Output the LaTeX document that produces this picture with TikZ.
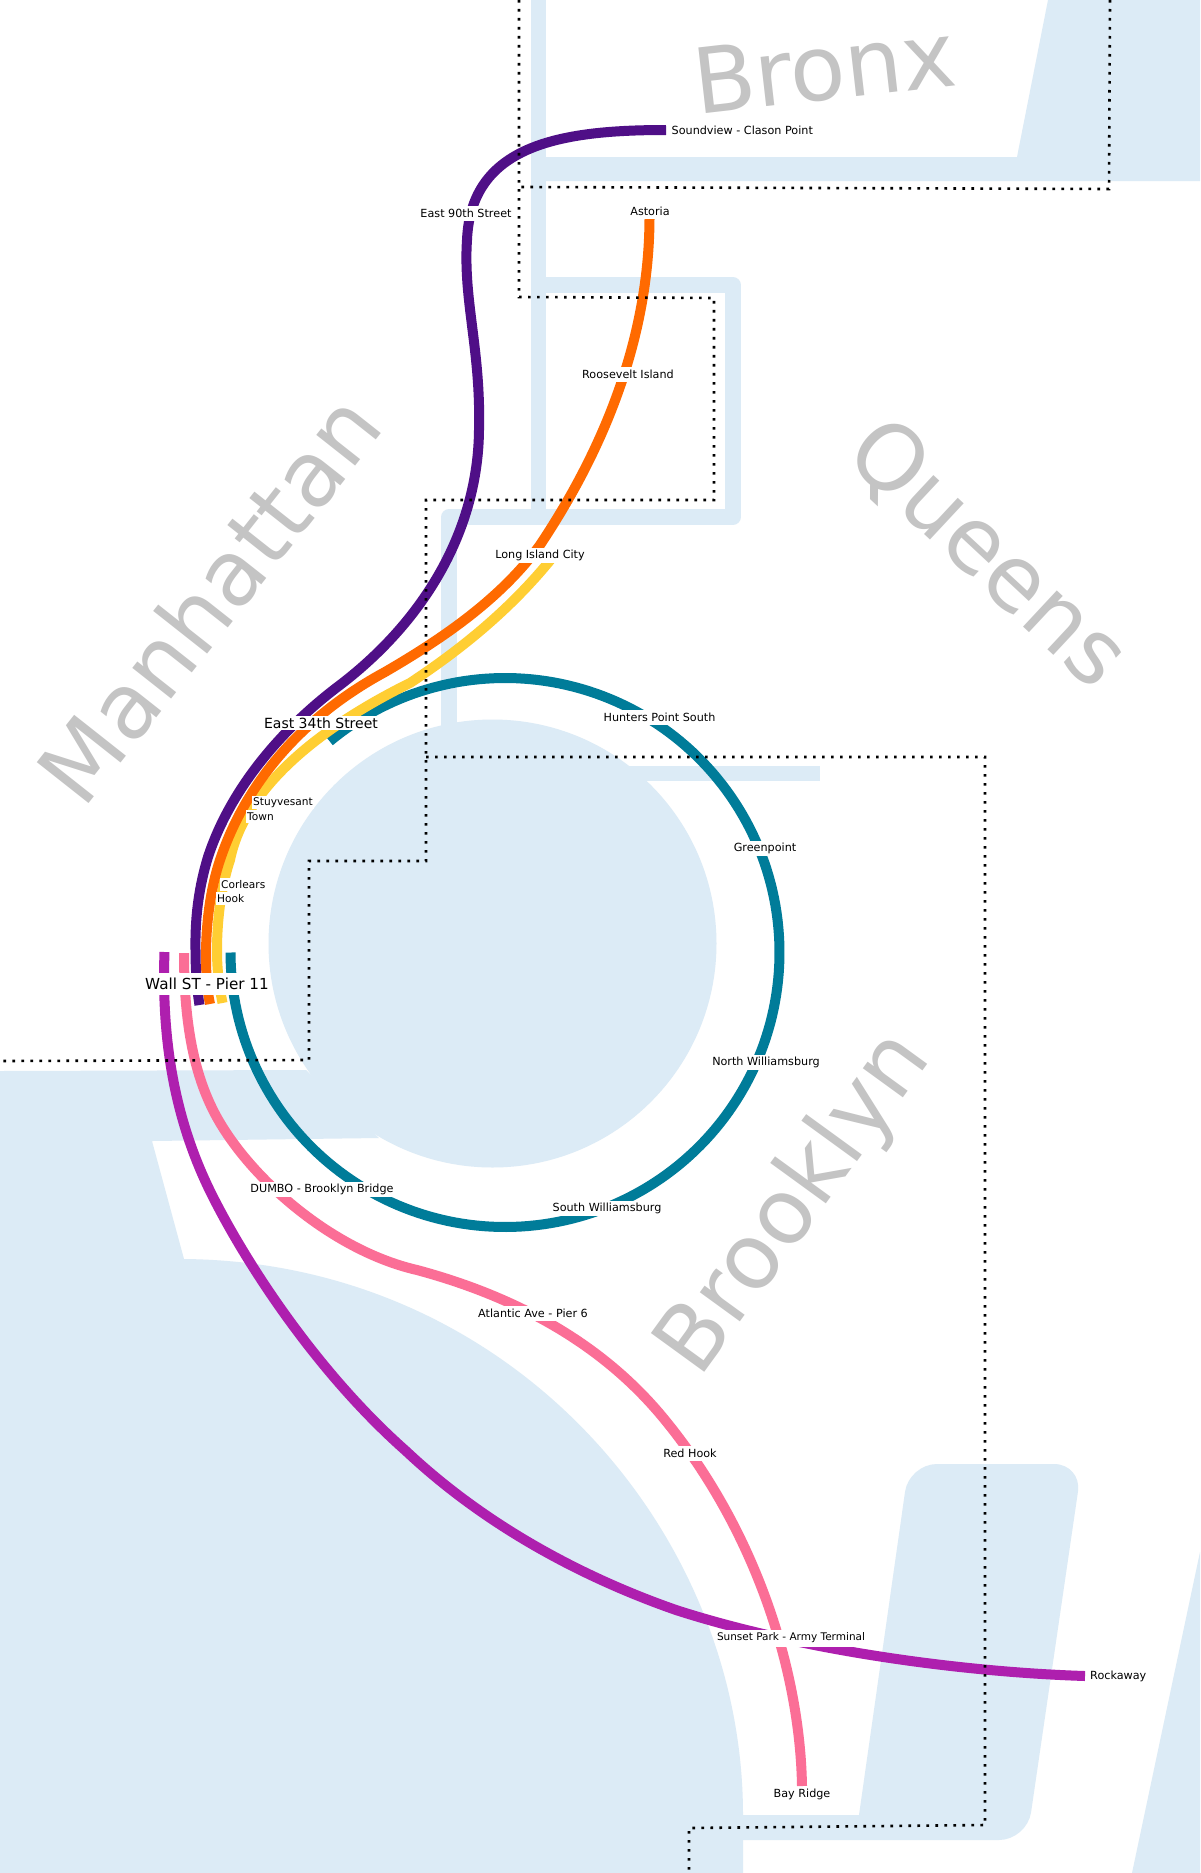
\documentclass[tikz,border=0pt]{standalone}
\usepackage{fontspec}
\setmainfont{DejaVu Sans}
\definecolor{water}{HTML}{DCEBF6}
\definecolor{lnpurple}{HTML}{4F0F87}
\definecolor{lnorange}{HTML}{FF6A00}
\definecolor{lnyellow}{HTML}{FFCE33}
\definecolor{lnteal}{HTML}{007C99}
\definecolor{lnpink}{HTML}{FB6E96}
\definecolor{lnmagenta}{HTML}{AE1FAE}
\definecolor{boro}{HTML}{C4C4C4}
\tikzset{
  ferry/.style={line width=10pt,line cap=butt,line join=round},
  channel/.style={draw=water,line width=15.5pt,line join=round},
  border/.style={draw=black,line width=2.6pt,dash pattern=on 2.6pt off 6.4pt},
  stop/.style={fill=white,text=black,inner xsep=1pt,inner ysep=0pt,minimum height=15pt,font=\fontsize{11.2}{13}\selectfont},
  stoptight/.style={stop,minimum height=13pt,font=\fontsize{10.6}{12}\selectfont},
  hub/.style={fill=white,text=black,inner xsep=1pt,inner ysep=0pt,font=\fontsize{15}{17}\selectfont},
  borough/.style={text=boro,anchor=base,font=\fontsize{90.5}{100}\selectfont}
}
\begin{document}
\begin{tikzpicture}[x=1pt,y=-1pt]
\useasboundingbox (0,0) rectangle (1200,1873);
\clip (0,0) rectangle (1200,1873);
\fill[white] (0,0) rectangle (1200,1873);
% water
\fill[water] (492.5,943.5) circle[radius=224pt];
\fill[water] (0,1071) -- (306,1070) -- (379,1138) -- (152,1141) -- (184,1259)
  .. controls (510,1262) and (743,1530) .. (743,1815) -- (743,1873) -- (0,1873) -- cycle;
\fill[water] (743,1815) -- (859,1815) [rounded corners=28pt] -- (909,1464) -- (1082,1464) -- (1027,1840) [sharp corners] -- (743,1840) -- cycle;
\fill[water] (1132,1873) -- (1200,1552) -- (1200,1873) -- cycle;
\fill[water] (1048,0) -- (1200,0) -- (1200,181) -- (531,181) -- (531,157) -- (1017,157) -- cycle;
\draw[channel] (538.5,0) -- (538.5,517);
\draw[channel] (538.5,285) -- (733,285) -- (733,517) -- (449,517) -- (449,760);
\fill[water] (600,766) rectangle (820,781);
% borough names
\node[borough,rotate=6.5] (bronx) at (828,100) {Bronx};
\node[borough,rotate=51.7] (manhattan) at (235,619) {Manhattan};
\node[borough,rotate=-43] (queens) at (968,575) {Queens};
\node[borough,rotate=54] (brooklyn) at (815.8,1218.7) {Brooklyn};
% line ends
\coordinate (soundview) at (666,130);
\coordinate (wallP) at (199.5,1005);
\coordinate (astoria) at (649.5,219);
\coordinate (wallO) at (210,1004);
\coordinate (lic) at (552,558);
\coordinate (wallY) at (222.5,1003);
\coordinate (rockaway) at (1085,1676);
\coordinate (wallM) at (164.5,952);
\coordinate (bayridge) at (802,1786);
\coordinate (wallK) at (184,953);
% ferry lines
\draw[ferry,lnteal] plot[domain=230.3:540,samples=200] ({505+274.5*cos(\x)},{952.5+274.5*sin(\x)});
\draw[ferry,lnmagenta] (rockaway) .. controls (960,1672) and (800,1650) .. (676,1610)
  .. controls (590,1580) and (490,1530) .. (406,1451)
  .. controls (320,1375) and (250,1270) .. (213,1197)
  .. controls (178,1128) and (161,1050) .. (wallM);
\draw[ferry,lnpink] (bayridge) .. controls (800,1670) and (755,1530) .. (665,1420)
  .. controls (600,1340) and (510,1295) .. (417,1270)
  .. controls (330,1250) and (245,1174) .. (213,1110)
  .. controls (193,1070) and (184,1020) .. (wallK);
\draw[ferry,lnyellow] (lic) .. controls (510,610) and (460,650) .. (410,683)
  .. controls (325,725) and (245,785) .. (230,860)
  .. controls (220,890) and (217,925) .. (217,950)
  .. controls (217,970) and (219,985) .. (wallY);
\draw[ferry,lnorange] (astoria) .. controls (649,330) and (610,440) .. (540,545)
  .. controls (500,600) and (440,640) .. (385,672)
  .. controls (300,718) and (245,785) .. (220,860)
  .. controls (210,890) and (206,925) .. (206,955)
  .. controls (206,975) and (207,990) .. (wallO);
\draw[ferry,lnpurple] (soundview) .. controls (560,130) and (471,145) .. (467,240)
  .. controls (463,300) and (481,350) .. (479,430)
  .. controls (478,530) and (425,620) .. (340,685)
  .. controls (280,730) and (230,790) .. (208,857)
  .. controls (198,890) and (195,920) .. (195.5,950)
  .. controls (195.5,970) and (197,990) .. (wallP);
% border
\draw[border] (1110,0) -- (1109,189) -- (519,187);
\draw[border] (519,0) -- (519,297) -- (714,298) -- (714,500) -- (426,500) -- (426,861) -- (309,861) -- (309,1060) -- (0,1061);
\draw[border] (426,757) -- (985,757) -- (985,1825) -- (689,1828) -- (689,1873);
% stops
\node[stop,anchor=west] (nSoundview) at (670.5,130) {Soundview - Clason Point};
\node[stop] (nEast90) at (466,213) {East 90th Street};
\node[stop] (nAstoria) at (650,211) {Astoria};
\node[stop] (nRoosevelt) at (628,374.5) {Roosevelt Island};
\node[stop] (nLIC) at (540,555) {Long Island City};
\node[stop] (nHunters) at (659.5,717) {Hunters Point South};
\node[stop] (nGreenpoint) at (765,848.5) {Greenpoint};
\node[stop] (nNorthW) at (766,1062.5) {North Williamsburg};
\node[stop] (nSouthW) at (607,1208) {South Williamsburg};
\node[stop] (nDumbo) at (322,1189.5) {DUMBO - Brooklyn Bridge};
\node[stop] (nAtlantic) at (533,1313) {Atlantic Ave - Pier 6};
\node[stop] (nRedHook) at (690,1453) {Red Hook};
\node[stop,minimum height=17pt,font=\fontsize{10.5}{12}\selectfont] (nSunset) at (791,1638) {Sunset Park - Army Terminal};
\node[stop,anchor=west] (nRockaway) at (1089,1676) {Rockaway};
\node[stop] (nBayRidge) at (802,1794) {Bay Ridge};
\node[stoptight,anchor=west] (nStuy) at (252,802.5) {Stuyvesant};
\node[stoptight,anchor=west] (nTown) at (246,816.5) {Town};
\node[stoptight,anchor=west] (nCorlears) at (220,884.5) {Corlears};
\node[stoptight,anchor=west] (nHook) at (216,898.5) {Hook};
\node[hub,minimum height=14pt,font=\fontsize{14}{16}\selectfont] (nEast34) at (321,723) {East 34th Street};
\node[hub,minimum height=22pt,font=\fontsize{15.2}{17}\selectfont] (nWall) at (207,984) {Wall ST - Pier 11};
\end{tikzpicture}
\end{document}
